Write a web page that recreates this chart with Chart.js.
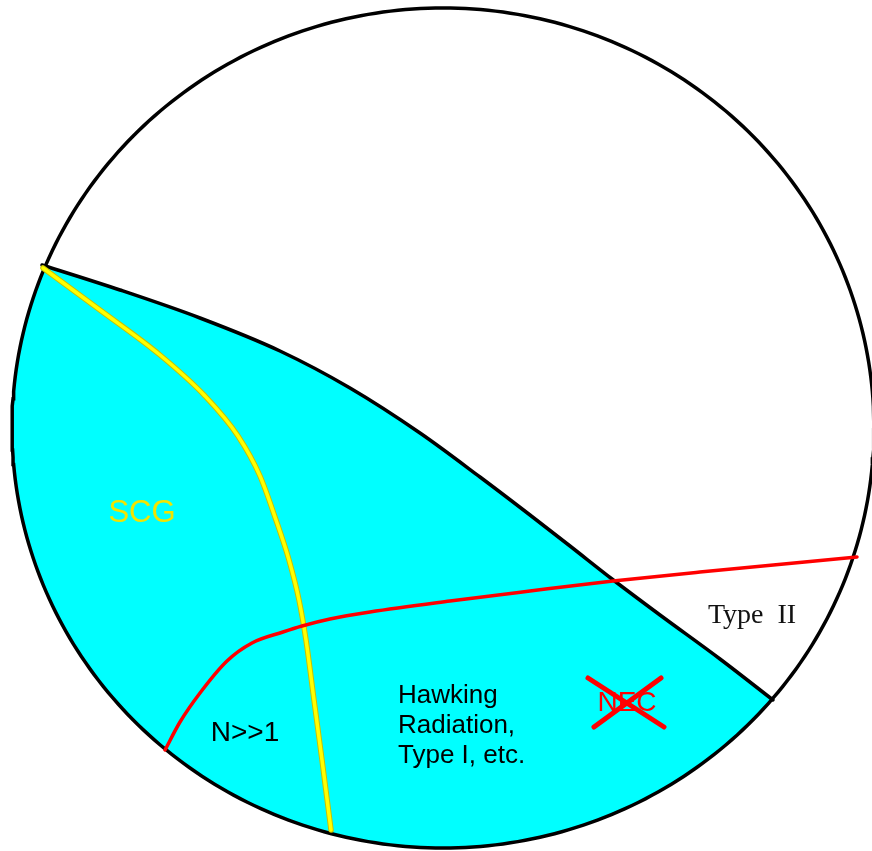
<!DOCTYPE html>
<html>
<head>
<meta charset="utf-8">
<script src="https://cdn.jsdelivr.net/npm/chart.js@4/dist/chart.umd.min.js"></script>
<style>
  html, body { margin: 0; padding: 0; background: #fff; }
  #wrap { width: 872px; height: 851px; }
</style>
</head>
<body>
<div id="wrap"><canvas id="chart"></canvas></div>
<script>
const nullEnergyEdge = [[42, 265], [120, 290], [200, 318], [280, 351], [350, 388], [420, 433],
    [480, 477], [530, 515], [570, 546], [612, 579], [660, 615], [720, 659], [773, 700]];
const scgCurve = [[43, 268], [100, 310], [160, 355], [205, 396], [238, 436], [260, 476],
    [276, 520], [289, 560], [299, 600], [306, 640], [314, 700], [322, 760], [331, 830]];
const largeNCurve = [[165, 750], [180, 722], [200, 693], [227, 661], [252, 643], [283, 632],
    [302, 626], [330, 619], [370, 612], [450, 601], [530, 591], [613, 581], [700, 572], [857, 557]];
const necStrokeA = [[588, 678], [664, 727]];
const necStrokeB = [[661, 678], [594, 727]];

// outer rim of the diagram
const rim = { cx: 443, cy: 428, rx: 431, ry: 420 };

const labels = [
    { text: "SCG", x: 142, y: 513, font: "31px 'Liberation Sans', Arial", color: "#f2e400", align: "center" },
    { text: "N>>1", x: 245, y: 733, font: "28px 'Liberation Sans', Arial", color: "#000", align: "center" },
    { text: "Hawking", x: 398, y: 703, font: "26px 'Liberation Sans', Arial", color: "#000", align: "left", base: "alphabetic" },
    { text: "Radiation,", x: 398, y: 733, font: "26px 'Liberation Sans', Arial", color: "#000", align: "left", base: "alphabetic" },
    { text: "Type I, etc.", x: 398, y: 763, font: "26px 'Liberation Sans', Arial", color: "#000", align: "left", base: "alphabetic" },
    { text: "NEC", x: 627, y: 703, font: "28px 'Liberation Sans', Arial", color: "#ff0000", align: "center" },
    { text: "Type  II", x: 752, y: 623, font: "28px 'Liberation Serif', 'Times New Roman', serif", color: "#111", align: "center", base: "alphabetic" },
];

const toPts = (arr) => arr.map(([x, y]) => ({ x, y }));

const rimArc = (a0, a1, n) => {
    const pts = [];
    for (let i = 0; i <= n; i++) {
        const a = a0 + (a1 - a0) * i / n;
        pts.push({ x: rim.cx + rim.rx * Math.cos(a), y: rim.cy + rim.ry * Math.sin(a) });
    }
    return pts;
};

const angleOf = ([x, y]) => Math.atan2((y - rim.cy) / rim.ry, (x - rim.cx) / rim.rx);

// cyan region: under the black edge, closed along the rim
const edgeEnd = nullEnergyEdge[nullEnergyEdge.length - 1];
let a0 = angleOf(edgeEnd);
let a1 = angleOf(nullEnergyEdge[0]);
if (a1 < a0) a1 += Math.PI * 2;
const regionPts = toPts(nullEnergyEdge).concat(rimArc(a0, a1, 120));

const curve = (data, color, width, order) => ({
    data: toPts(data),
    showLine: true,
    borderColor: color,
    borderWidth: width,
    borderCapStyle: "round",
    pointRadius: 0,
    fill: false,
    cubicInterpolationMode: "monotone",
    order,
});

const textPlugin = {
    id: "diagramText",
    afterDatasetsDraw(chart) {
        const { ctx, scales } = chart;
        ctx.save();
        labels.forEach((l) => {
            ctx.font = l.font;
            ctx.fillStyle = l.color;
            ctx.textAlign = l.align;
            ctx.textBaseline = l.base || "middle";
            ctx.fillText(l.text, scales.x.getPixelForValue(l.x), scales.y.getPixelForValue(l.y));
        });
        ctx.restore();
    },
};

new Chart(document.getElementById("chart"), {
    type: "scatter",
    data: {
        datasets: [
            {
                data: regionPts,
                showLine: true,
                borderWidth: 0,
                borderColor: "rgba(0,0,0,0)",
                backgroundColor: "#00ffff",
                pointRadius: 0,
                fill: "shape",
                tension: 0,
                order: 10,
            },
            {
                data: rimArc(0, Math.PI * 2, 360),
                showLine: true,
                borderColor: "#000",
                borderWidth: 3.5,
                pointRadius: 0,
                fill: false,
                tension: 0,
                order: 6,
            },
            curve(nullEnergyEdge, "#000", 3.5, 5),
            curve(scgCurve, "#c9c200", 5.5, 4),
            curve(scgCurve, "#ffff00", 3.5, 3),
            curve(largeNCurve, "#ff0000", 3.5, 2),
            curve(necStrokeA, "#ff0000", 5, 1),
            curve(necStrokeB, "#ff0000", 5, 1),
        ],
    },
    options: {
        responsive: true,
        maintainAspectRatio: false,
        animation: false,
        layout: { padding: 0 },
        plugins: { legend: { display: false }, tooltip: { enabled: false } },
        scales: {
            x: { type: "linear", min: 0, max: 872, display: false },
            y: { type: "linear", min: 0, max: 851, reverse: true, display: false },
        },
    },
    plugins: [textPlugin],
});
</script>
</body>
</html>
